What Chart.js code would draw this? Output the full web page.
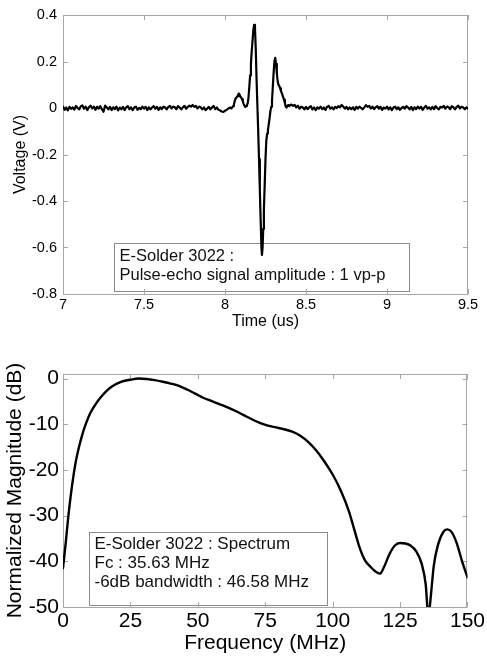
<!DOCTYPE html>
<html><head><meta charset="utf-8">
<script src="https://cdn.jsdelivr.net/npm/chart.js@4.4.1/dist/chart.umd.min.js"></script>
<style>
html,body{margin:0;padding:0;background:#fff;}
#wrap{position:relative;width:487px;height:656px;overflow:hidden;}
#c1{position:absolute;left:0;top:0;}
#c2{position:absolute;left:0;top:335px;}
</style></head><body>
<div id="wrap">
<canvas id="c1" width="487" height="331"></canvas>
<canvas id="c2" width="487" height="321"></canvas>
</div>
<script>
// ---------- Top chart data: pulse-echo waveform ----------
const baselineBeforeTimes = [
7.00,7.01,7.02,7.03,7.04,7.05,7.06,7.07,7.08,7.09,
7.10,7.11,7.12,7.13,7.14,7.15,7.16,7.17,7.18,7.19,
7.20,7.21,7.22,7.23,7.24,7.25,7.26,7.27,7.28,7.29,
7.30,7.31,7.32,7.33,7.34,7.35,7.36,7.37,7.38,7.39,
7.40,7.41,7.42,7.43,7.44,7.45,7.46,7.47,7.48,7.49,
7.50,7.51,7.52,7.53,7.54,7.55,7.56,7.57,7.58,7.59,
7.60,7.61,7.62,7.63,7.64,7.65,7.66,7.67,7.68,7.69,
7.70,7.71,7.72,7.73,7.74,7.75,7.76,7.77,7.78,7.79,
7.80,7.81,7.82,7.83,7.84,7.85,7.86,7.87,7.88,7.89,
7.90,7.91,7.92,7.93,7.94,7.95,7.96,7.97,7.98,7.99,
8.00,8.01,8.02,8.03,8.04];
const baselineBeforeVolts = [
0.006,-0.008,0.002,-0.010,0.005,-0.004,0.003,-0.007,0.009,0.000,
-0.006,0.008,0.011,-0.003,0.006,-0.009,0.003,0.010,-0.002,0.006,
-0.008,0.005,-0.003,0.008,-0.005,-0.016,0.010,0.003,-0.006,0.005,
-0.009,0.003,-0.005,0.006,-0.010,0.002,-0.006,0.005,-0.009,0.003,
0.008,-0.005,0.003,-0.009,0.002,0.006,-0.008,0.000,-0.005,0.006,
-0.003,0.005,-0.009,0.003,-0.006,0.002,0.008,-0.003,0.005,-0.008,
0.003,-0.005,0.006,0.002,-0.006,0.005,0.009,-0.002,0.006,0.003,
-0.005,0.008,0.002,-0.006,0.003,0.009,-0.003,0.005,0.010,0.006,
0.013,0.005,0.009,-0.002,0.006,0.003,-0.006,0.002,-0.009,-0.003,
0.005,-0.006,0.003,0.009,-0.005,0.002,-0.008,-0.011,-0.015,-0.017,
-0.012,-0.008,-0.003,0.002,-0.002];
const pulseTimes = [
8.05,8.055,8.06,8.065,8.07,8.075,8.08,8.085,8.09,8.095,
8.10,8.105,8.11,8.115,8.12,8.125,8.13,8.135,8.14,8.145,
8.15,8.155,8.16,8.165,8.17,8.175,8.18,8.185,8.19,8.195,
8.20,8.205,8.21,8.215,8.22,8.225,8.228,8.232,8.236,8.24,
8.245,8.25,8.255,8.26,8.265,8.27,8.275,8.28,8.285,8.29,
8.295,8.30,8.305,8.31,8.315,8.32,8.325,8.33,8.335,8.34,
8.345,8.35,8.355,8.36,8.365,8.37,8.375,8.38,8.385,8.39,
8.395,8.40];
const pulseVolts = [
0.008,0.015,0.030,0.040,0.045,0.050,0.055,0.062,0.058,0.048,
0.045,0.038,0.028,0.018,0.010,0.005,0.008,0.012,0.020,0.045,
0.090,0.140,0.190,0.245,0.290,0.335,0.358,0.345,0.250,0.120,
0.010,-0.100,-0.220,-0.350,-0.480,-0.600,-0.632,-0.600,-0.520,-0.440,
-0.330,-0.220,-0.140,-0.110,-0.095,-0.070,-0.045,-0.015,0.005,0.030,
0.090,0.150,0.200,0.216,0.190,0.150,0.115,0.100,0.095,0.085,
0.075,0.065,0.055,0.045,0.035,0.020,0.005,0.002,0.010,0.012,
0.008,0.010];
const baselineAfterTimes = [
8.41,8.42,8.43,8.44,8.45,8.46,8.47,8.48,8.49,8.50,
8.51,8.52,8.53,8.54,8.55,8.56,8.57,8.58,8.59,8.60,
8.61,8.62,8.63,8.64,8.65,8.66,8.67,8.68,8.69,8.70,
8.71,8.72,8.73,8.74,8.75,8.76,8.77,8.78,8.79,8.80,
8.81,8.82,8.83,8.84,8.85,8.86,8.87,8.88,8.89,8.90,
8.91,8.92,8.93,8.94,8.95,8.96,8.97,8.98,8.99,9.00,
9.01,9.02,9.03,9.04,9.05,9.06,9.07,9.08,9.09,9.10,
9.11,9.12,9.13,9.14,9.15,9.16,9.17,9.18,9.19,9.20,
9.21,9.22,9.23,9.24,9.25,9.26,9.27,9.28,9.29,9.30,
9.31,9.32,9.33,9.34,9.35,9.36,9.37,9.38,9.39,9.40,
9.41,9.42,9.43,9.44,9.45,9.46,9.47,9.48,9.49,9.50];
const baselineAfterVolts = [
0.015,0.009,0.013,0.003,0.010,-0.003,0.006,0.002,-0.006,0.005,
-0.005,0.003,0.008,-0.006,0.002,-0.009,0.003,-0.003,0.006,-0.005,
0.002,-0.008,0.005,0.009,-0.003,0.003,-0.006,0.005,0.000,0.008,
0.003,0.013,0.006,-0.003,0.005,-0.006,0.002,-0.005,0.003,-0.008,
0.005,-0.003,0.006,0.000,-0.006,0.003,0.012,0.005,0.009,-0.002,
0.006,-0.005,0.003,0.008,-0.003,0.005,-0.008,0.002,-0.003,0.006,
-0.006,0.003,-0.009,0.002,0.006,-0.005,0.003,-0.008,0.000,0.005,
-0.003,0.008,0.002,-0.006,0.005,-0.009,0.003,-0.005,0.006,-0.002,
0.005,-0.008,0.002,0.009,-0.003,0.003,-0.006,0.005,-0.005,0.008,
0.000,-0.006,0.005,0.002,0.009,-0.003,0.006,0.003,-0.005,0.008,
0.003,-0.006,0.005,0.010,-0.002,0.006,0.002,-0.005,0.003,-0.003];
const timeTicks = [7, 7.5, 8, 8.5, 9, 9.5];
const voltTicks = [-0.8, -0.6, -0.4, -0.2, 0, 0.2, 0.4];
const topLegendLines = ["E-Solder 3022 :", "Pulse-echo signal amplitude : 1 vp-p"];

// ---------- Bottom chart data: spectrum ----------
const freqMHz = [0,1,2,3,4,5,6,7,8,10,12,14,16,18,20,22,25,28,31,34,37,40,43,46,49,52,55,58,61,64,67,70,73,76,79,82,85,88,91,94,97,100,103,106,108,110,112,114,116,117.5,119,121,123,125,127,129,131,133,134.5,135.5,136.5,137.5,139,141,142.5,144,146,148,150];
const magnitudeDb = [-41.5,-36,-30,-25,-20.8,-17.4,-14.8,-12.6,-10.7,-7.7,-5.7,-4.1,-2.8,-1.8,-1.1,-0.6,-0.25,0,-0.1,-0.35,-0.7,-1.1,-1.6,-2.4,-3.3,-4.2,-4.9,-5.6,-6.3,-7.1,-8.0,-8.9,-9.7,-10.3,-10.7,-11.1,-11.6,-12.5,-13.9,-15.8,-18.2,-21,-24.5,-29,-33,-37,-39.8,-41.2,-42.3,-42.7,-41.3,-38.5,-36.6,-36.0,-36.1,-36.6,-37.8,-40.5,-45,-52,-47,-41,-36.5,-33.6,-33.0,-33.5,-36,-40,-43.5];
const freqTicks = [0, 25, 50, 75, 100, 125, 150];
const dbTicks = [-50, -40, -30, -20, -10, 0];
const bottomLegendLines = ["E-Solder 3022 : Spectrum", "Fc : 35.63 MHz", "-6dB bandwidth : 46.58 MHz"];

// ---------- helpers ----------
const FONT = "'Liberation Sans', Arial, Helvetica, sans-serif";
function pairs(xs, ys){ const n = Math.min(xs.length, ys.length); const out=[]; for(let i=0;i<n;i++) out.push({x:xs[i], y:ys[i]}); return out; }
function fmt(v){ return String(Math.round(v*100)/100); }

const framePlugin = {
  id: 'matlabFrame',
  beforeDatasetsDraw(chart, args, opts){
    const {ctx, chartArea:a, scales:{x, y}} = chart;
    ctx.save();
    // legend box (drawn under the curve)
    const lg = opts.legend;
    if (lg){
      const lx = Math.round(x.getPixelForValue(lg.x)) + 0.5;
      const ly = Math.round(y.getPixelForValue(lg.y)) + 0.5;
      ctx.fillStyle = '#ffffff';
      ctx.fillRect(lx, ly, lg.w, lg.h);
      ctx.strokeStyle = '#8a8a8a';
      ctx.lineWidth = 1;
      ctx.strokeRect(lx, ly, lg.w, lg.h);
      ctx.fillStyle = '#111';
      ctx.font = lg.size + 'px ' + FONT;
      ctx.textBaseline = 'middle';
      ctx.textAlign = 'left';
      lg.lines.forEach((t, i) => ctx.fillText(t, lx + lg.pad, ly + lg.first + i*lg.step));
    }
    // axes box
    ctx.strokeStyle = '#a6a6a6';
    ctx.lineWidth = 1;
    ctx.strokeRect(Math.round(a.left)+0.5, Math.round(a.top)+0.5, Math.round(a.right-a.left)-1, Math.round(a.bottom-a.top));
    const L = opts.tickLen || 5;
    ctx.beginPath();
    x.ticks.forEach(t => {
      const px = Math.round(x.getPixelForValue(t.value)) + 0.5;
      ctx.moveTo(px, a.bottom); ctx.lineTo(px, a.bottom - L);
      ctx.moveTo(px, a.top); ctx.lineTo(px, a.top + L);
    });
    y.ticks.forEach(t => {
      const py = Math.round(y.getPixelForValue(t.value)) + 0.5;
      ctx.moveTo(a.left, py); ctx.lineTo(a.left + L, py);
      ctx.moveTo(a.right, py); ctx.lineTo(a.right - L, py);
    });
    ctx.stroke();
    ctx.restore();
  }
};

function makeChart(id, cfg){
  return new Chart(document.getElementById(id), {
    type: 'line',
    data: { datasets: [{
      data: cfg.data, borderColor: '#000', borderWidth: cfg.lineW, pointRadius: 0,
      tension: cfg.tension, cubicInterpolationMode: cfg.mono ? 'monotone' : 'default', fill: false,
      borderJoinStyle: 'round', borderCapStyle: 'round'
    }]},
    options: {
      responsive: false, animation: false, devicePixelRatio: 1,
      layout: { padding: { top: cfg.padTop, right: 19, left: 0, bottom: 0 } },
      plugins: { legend: {display: false}, tooltip: {enabled: false}, matlabFrame: { legend: cfg.legend, tickLen: 5 } },
      scales: {
        x: {
          type: 'linear', min: cfg.xMin, max: cfg.xMax,
          afterBuildTicks: s => { s.ticks = cfg.xTicks.map(v => ({value: v})); },
          afterFit: s => { s.height = cfg.xAxisH; },
          grid: { display: false, drawTicks: false }, border: { display: false },
          ticks: { color: '#000', font: { family: FONT, size: cfg.tickSize }, padding: cfg.xTickPad, maxRotation: 0, autoSkip: false, callback: v => fmt(v) },
          title: { display: true, text: cfg.xTitle, color: '#000', font: { family: FONT, size: cfg.titleSize }, padding: 0 }
        },
        y: {
          type: 'linear', min: cfg.yMin, max: cfg.yMax,
          afterBuildTicks: s => { s.ticks = cfg.yTicks.map(v => ({value: v})); },
          afterFit: s => { s.width = 63; },
          grid: { display: false, drawTicks: false }, border: { display: false },
          ticks: { color: '#000', font: { family: FONT, size: cfg.tickSize }, padding: cfg.yTickPad, autoSkip: false, callback: v => fmt(v) },
          title: { display: true, text: cfg.yTitle, color: '#000', font: { family: FONT, size: cfg.titleSize }, padding: { top: cfg.yTitlePad, bottom: 0 } }
        }
      }
    },
    plugins: [framePlugin]
  });
}

const waveform = pairs(baselineBeforeTimes, baselineBeforeVolts)
  .concat(pairs(pulseTimes, pulseVolts))
  .concat(pairs(baselineAfterTimes, baselineAfterVolts));

makeChart('c1', {
  data: waveform, tension: 0, mono: false, lineW: 2.2,
  xMin: 7, xMax: 9.5, yMin: -0.8, yMax: 0.4, xTicks: timeTicks, yTicks: voltTicks,
  padTop: 15, xAxisH: 37, tickSize: 14.5, titleSize: 16, xTickPad: 2, yTickPad: 6, yTitlePad: 11,
  xTitle: 'Time (us)', yTitle: 'Voltage (V)',
  legend: { x: 7.315, y: -0.58, w: 295, h: 48, pad: 5, first: 12.5, step: 19, size: 16.5, lines: topLegendLines }
});

makeChart('c2', {
  data: pairs(freqMHz, magnitudeDb), tension: 0.4, mono: true, lineW: 2.4,
  xMin: 0, xMax: 150, yMin: -50, yMax: 1, xTicks: freqTicks, yTicks: dbTicks,
  padTop: 39, xAxisH: 49, tickSize: 21, titleSize: 21, xTickPad: 2, yTickPad: 4, yTitlePad: 2.4,
  xTitle: 'Frequency (MHz)', yTitle: 'Normalized Magnitude (dB)',
  legend: { x: 9.63, y: -33.5, w: 238, h: 73, pad: 5, first: 12, step: 19, size: 17, lines: bottomLegendLines }
});
</script>
</body></html>
